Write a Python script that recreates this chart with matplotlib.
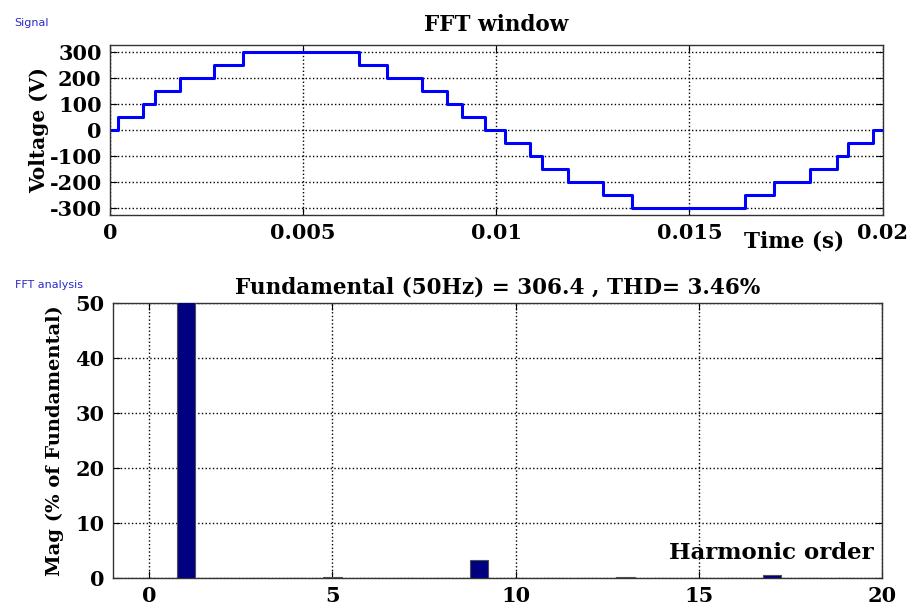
import matplotlib
matplotlib.use('Agg')
import matplotlib.pyplot as plt

# stepped output voltage over one 50 Hz cycle (switching instants and levels)
switch_times = [0, 0.0002, 0.00085, 0.00116, 0.00181, 0.00269, 0.00344,
                0.00644, 0.00717, 0.00807, 0.00872, 0.00911, 0.0097,
                0.01022, 0.01087, 0.01118, 0.01185, 0.01276, 0.0135,
                0.01643, 0.0172, 0.01811, 0.01881, 0.0191, 0.01974, 0.02]
voltage_levels = [0, 50, 100, 150, 200, 250, 300,
                  250, 200, 150, 100, 50, 0,
                  -50, -100, -150, -200, -250, -300,
                  -250, -200, -150, -100, -50, 0, 0]

# harmonic spectrum, % of fundamental
harmonic_order = list(range(0, 20))
harmonic_mag = [0.05, 100, 0.05, 0.05, 0.05, 0.2, 0.05, 0.05, 0.05, 3.3,
                0.05, 0.05, 0.05, 0.25, 0.05, 0.05, 0.05, 0.6, 0.05, 0.05]

plt.rcParams['font.family'] = 'DejaVu Serif'
plt.rcParams['font.weight'] = 'bold'
plt.rcParams['axes.unicode_minus'] = False

fig = plt.figure(figsize=(9.09, 6.06), dpi=100)

# --- signal ---
ax1 = fig.add_axes([0.121, 0.645, 0.850, 0.281])
ax1.step(switch_times, voltage_levels, where='post', color='#0000ff', lw=2.2)
ax1.set_xlim(0, 0.02)
ax1.set_ylim(-327, 327)
ax1.set_yticks([-300, -200, -100, 0, 100, 200, 300])
ax1.set_xticks([0, 0.005, 0.01, 0.015, 0.02])
ax1.set_xticklabels(['0', '0.005', '0.01', '0.015', '0.02'])
ax1.set_title('FFT window', fontsize=15.5, fontweight='bold', pad=10)
ax1.set_ylabel('Voltage (V)', fontsize=14.5, fontweight='bold', labelpad=0)
ax1.text(0.885, -0.155, 'Time (s)', transform=ax1.transAxes, fontsize=15.5,
         fontweight='bold', ha='center', va='center')

# --- FFT ---
ax2 = fig.add_axes([0.124, 0.046, 0.846, 0.454])
ax2.bar(harmonic_order, harmonic_mag, width=0.5, color='#000080',
        edgecolor='#505050', linewidth=0.8, zorder=3)
ax2.set_xlim(-1, 20)
ax2.set_ylim(0, 50)
ax2.set_xticks([0, 5, 10, 15, 20])
ax2.set_yticks([0, 10, 20, 30, 40, 50])
ax2.set_title('Fundamental (50Hz) = 306.4 , THD= 3.46%', fontsize=15.5,
              fontweight='bold', pad=7)
ax2.set_ylabel('Mag (% of Fundamental)', fontsize=14, fontweight='bold',
               labelpad=8)
ax2.text(0.99, 0.09, 'Harmonic order', transform=ax2.transAxes,
         fontsize=16.5, fontweight='bold', ha='right', va='center', zorder=4)

for ax in (ax1, ax2):
    ax.grid(True, linestyle=':', color='black', linewidth=1.0)
    ax.set_axisbelow(True)
    ax.tick_params(direction='in', top=True, right=True, length=5,
                   labelsize=15, pad=6)
    for lab in ax.get_xticklabels() + ax.get_yticklabels():
        lab.set_fontweight('bold')
    for s in ax.spines.values():
        s.set_color('#333333')
        s.set_linewidth(1.0)

fig.text(0.016, 0.962, 'Signal', fontsize=8, color='#2a2acc',
         family='DejaVu Sans', fontweight='normal', va='center')
fig.text(0.016, 0.530, 'FFT analysis', fontsize=8, color='#2a2acc',
         family='DejaVu Sans', fontweight='normal', va='center')

fig.savefig('out.png', dpi=100)
